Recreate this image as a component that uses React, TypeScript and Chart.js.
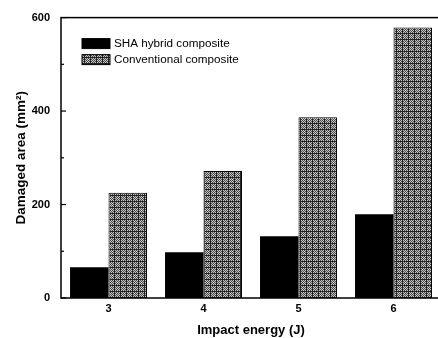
import React, { useEffect, useRef } from "react";
import { Chart, registerables } from "chart.js";

Chart.register(...registerables);

const categories = ["3", "4", "5", "6"];
const shaValues = [66, 98, 132, 179];
const conventionalValues = [225, 272, 387, 579];
const seriesNames = ["SHA hybrid composite", "Conventional composite"];
const yMajorTicks = [0, 200, 400, 600];
const yMinorTicks = [100, 300, 500];

function makePattern(): CanvasPattern | string {
  const c = document.createElement("canvas");
  c.width = 6;
  c.height = 6;
  const g = c.getContext("2d");
  if (!g) return "#999";
  g.fillStyle = "#c4c4c4";
  g.fillRect(0, 0, 6, 6);
  g.fillStyle = "#4a4a4a";
  for (let y = 0; y < 6; y++) {
    for (let x = 0; x < 6; x++) {
      if ((x + y) % 2 === 0) g.fillRect(x, y, 1, 1);
    }
  }
  g.fillStyle = "#222";
  g.fillRect(0, 0, 1, 6);
  g.fillRect(0, 3, 6, 1);
  const p = g.createPattern(c, "repeat");
  return p || "#999";
}

const FONT = "'Liberation Sans', Arial, sans-serif";
const NARROW = "'Liberation Sans Narrow', 'Liberation Sans', Arial, sans-serif";

export default function App() {
  const ref = useRef<HTMLCanvasElement | null>(null);

  useEffect(() => {
    document.body.style.margin = "0";
    const canvas = ref.current;
    if (!canvas) return;
    const pattern = makePattern();

    const framePlugin = {
      id: "frame",
      afterDraw(chart: any) {
        const { ctx, chartArea } = chart;
        const ys = chart.scales.y;
        ctx.save();
        ctx.strokeStyle = "#000";
        ctx.lineWidth = 1.5;
        ctx.strokeRect(chartArea.left, chartArea.top, chartArea.right - chartArea.left, chartArea.bottom - chartArea.top);
        ctx.lineWidth = 1.2;
        yMajorTicks.forEach((v) => {
          const y = ys.getPixelForValue(v);
          ctx.beginPath();
          ctx.moveTo(chartArea.left, y);
          ctx.lineTo(chartArea.left + 5, y);
          ctx.stroke();
        });
        yMinorTicks.forEach((v) => {
          const y = ys.getPixelForValue(v);
          ctx.beginPath();
          ctx.moveTo(chartArea.left, y);
          ctx.lineTo(chartArea.left + 3, y);
          ctx.stroke();
        });
        // legend
        const datasets = chart.data.datasets;
        const lx = chartArea.left + 21;
        let ly = chartArea.top + 21;
        ctx.font = "11.7px " + FONT;
        ctx.textBaseline = "middle";
        ctx.textAlign = "left";
        datasets.forEach((ds: any) => {
          ctx.fillStyle = ds.backgroundColor;
          ctx.fillRect(lx, ly, 28, 10);
          ctx.strokeStyle = "#000";
          ctx.lineWidth = 1;
          ctx.strokeRect(lx, ly, 28, 10);
          ctx.fillStyle = "#000";
          ctx.fillText(ds.label, lx + 32, ly + 5);
          ly += 16;
        });
        ctx.restore();
      },
    };

    const chart = new Chart(canvas, {
      type: "bar",
      data: {
        labels: categories,
        datasets: [
          {
            label: seriesNames[0],
            data: shaValues,
            backgroundColor: "#000",
            borderColor: "#000",
            borderWidth: 0,
            categoryPercentage: 0.81,
            barPercentage: 1,
          },
          {
            label: seriesNames[1],
            data: conventionalValues,
            backgroundColor: pattern as any,
            borderColor: "#000",
            borderWidth: 1,
            categoryPercentage: 0.81,
            barPercentage: 1,
          },
        ],
      },
      options: {
        animation: false,
        responsive: false,
        maintainAspectRatio: false,
        layout: { padding: { top: 16, right: 9, left: 0, bottom: 0 } },
        plugins: {
          legend: { display: false },
          tooltip: { enabled: false },
        },
        scales: {
          x: {
            grid: { display: false, drawTicks: false, tickLength: 0 },
            border: { display: false },
            ticks: { color: "#000", font: { family: FONT, size: 11, weight: "bold" }, padding: 4 },
            title: {
              display: true,
              text: "Impact energy (J)",
              color: "#000",
              font: { family: FONT, size: 13, weight: "bold" },
              padding: { top: 2, bottom: 0 },
            },
            afterFit(scale: any) {
              scale.height = 40;
            },
          },
          y: {
            min: 0,
            max: 600,
            afterBuildTicks(scale: any) {
              scale.ticks = yMajorTicks.map((v) => ({ value: v }));
            },
            grid: { display: false, drawTicks: false, tickLength: 0 },
            border: { display: false },
            ticks: { color: "#000", font: { family: NARROW, size: 11, weight: "bold" }, padding: 11 },
            title: {
              display: true,
              text: "Damaged area (mm²)",
              color: "#000",
              font: { family: FONT, size: 13.5, weight: "bold" },
              padding: { top: 13, bottom: 0 },
            },
            afterFit(scale: any) {
              scale.width = 61;
            },
          },
        },
      },
      plugins: [framePlugin],
    });
    return () => chart.destroy();
  }, []);

  return (
    <div style={{ width: 438, height: 338, overflow: "hidden", position: "relative" }}>
      <canvas ref={ref} width={450} height={338} style={{ position: "absolute", left: 0, top: 0 }} />
    </div>
  );
}
